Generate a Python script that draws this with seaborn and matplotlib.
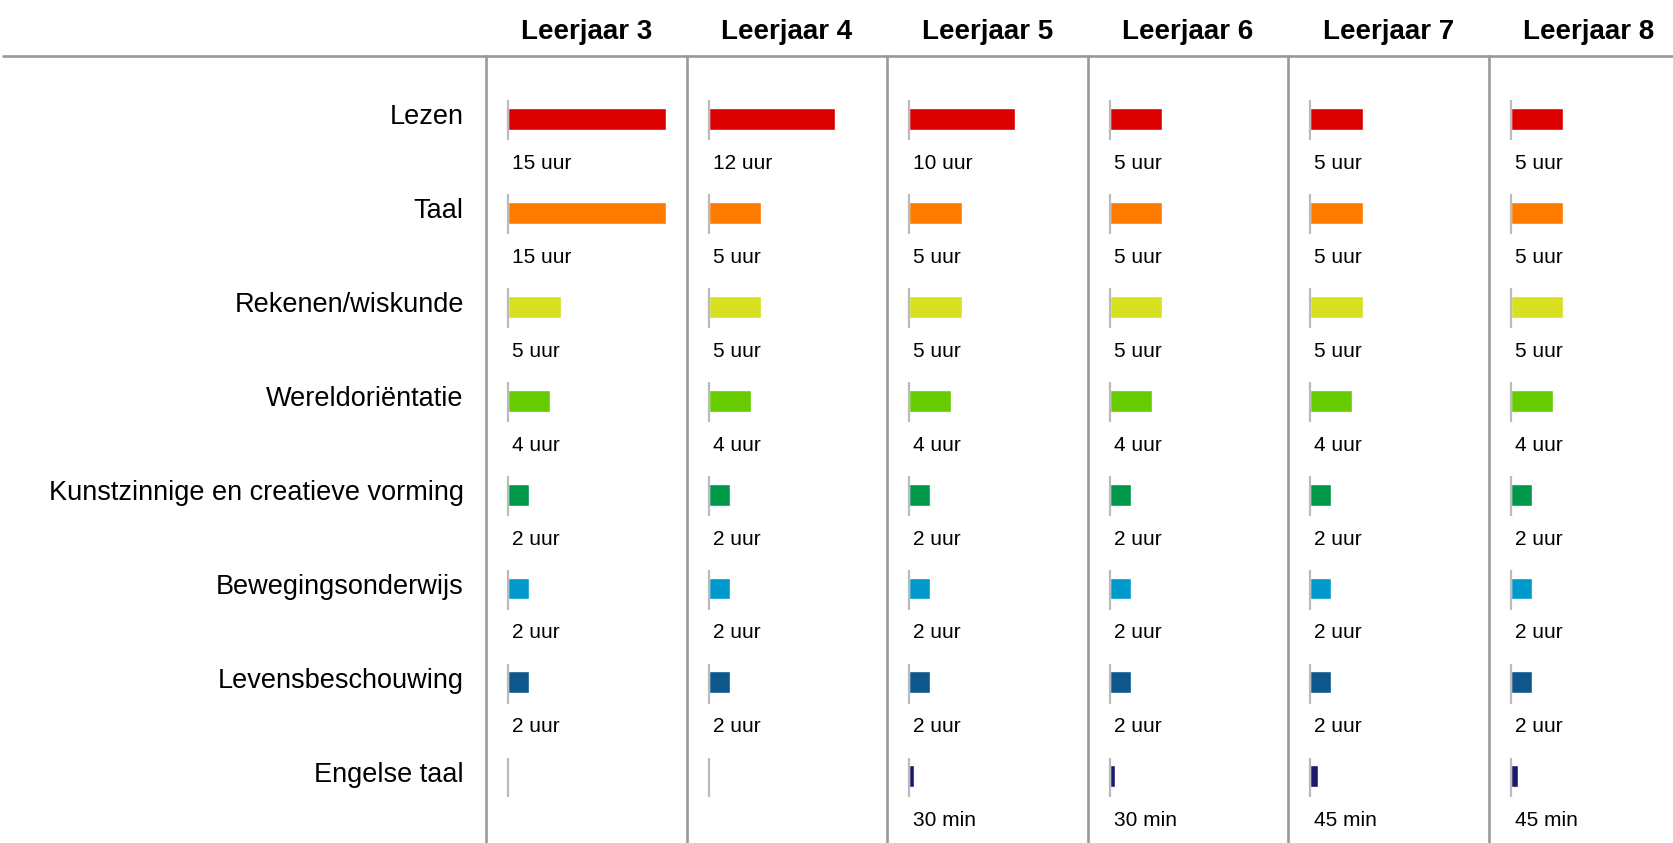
import matplotlib

matplotlib.use("Agg")
import matplotlib.pyplot as plt
from matplotlib.lines import Line2D
from matplotlib.transforms import ScaledTranslation
import pandas as pd
import seaborn as sns

# --------------------------------------------------------------------- #
# Data: uren per week per vak, per leerjaar
# --------------------------------------------------------------------- #
LEERJAREN = ["Leerjaar 3", "Leerjaar 4", "Leerjaar 5",
             "Leerjaar 6", "Leerjaar 7", "Leerjaar 8"]
VAKKEN = ["Lezen", "Taal", "Rekenen/wiskunde", "Wereldoriëntatie",
          "Kunstzinnige en creatieve vorming", "Bewegingsonderwijs",
          "Levensbeschouwing", "Engelse taal"]

LEZEN = [15, 12, 10, 5, 5, 5]
TAAL = [15, 5, 5, 5, 5, 5]
REKENEN = [5, 5, 5, 5, 5, 5]
WERELD = [4, 4, 4, 4, 4, 4]
KUNST = [2, 2, 2, 2, 2, 2]
BEWEGING = [2, 2, 2, 2, 2, 2]
LEVENS = [2, 2, 2, 2, 2, 2]
ENGELS = [0, 0, 0.5, 0.5, 0.75, 0.75]

KLEUREN = ["#DC0000", "#FF7B00", "#D8E022", "#66CC00",
           "#00994C", "#0099CC", "#0D578C", "#1A1A6E"]

# --------------------------------------------------------------------- #
# Layout (pixels of the 1673x843 canvas)
# --------------------------------------------------------------------- #
W, H = 1673, 843
COL_LEFT = 486          # first column separator
COL_W = 200.5
TOP = 56                # horizontal header rule
PX_PER_HOUR = 10.55
BAR_OFFSET = 22         # bar start after separator
ROW_H = 93.9
FIRST_ROW = 119         # centre of first row from top
GRID = "#999999"

sns.set_style("white")
plt.rcParams["font.family"] = ["Liberation Sans", "DejaVu Sans"]


def label_for(v):
    if v == 0:
        return ""
    if v < 1:
        return f"{int(round(v * 60))} min"
    return f"{int(v)} uur"


def main() -> None:
    series = [LEZEN, TAAL, REKENEN, WERELD, KUNST, BEWEGING, LEVENS, ENGELS]
    rows = []
    for vak, vals in zip(VAKKEN, series):
        for lj, v in zip(LEERJAREN, vals):
            rows.append({"leerjaar": lj, "vak": vak, "uren": v})
    df = pd.DataFrame(rows)

    fig = plt.figure(figsize=(W / 100, H / 100), dpi=100)

    x0 = -BAR_OFFSET / PX_PER_HOUR
    x1 = (COL_W - BAR_OFFSET) / PX_PER_HOUR
    y_top = -(FIRST_ROW - TOP) / ROW_H
    y_bot = (len(VAKKEN) - 1) + (H - (FIRST_ROW + (len(VAKKEN) - 1) * ROW_H)) / ROW_H

    for i, lj in enumerate(LEERJAREN):
        left = (COL_LEFT + i * COL_W) / W
        ax = fig.add_axes([left, 0, COL_W / W, (H - TOP) / H])
        sub = df[df["leerjaar"] == lj]
        sns.barplot(data=sub, y="vak", x="uren", hue="vak", order=VAKKEN,
                    hue_order=VAKKEN, palette=KLEUREN, orient="h",
                    width=0.234, saturation=1, legend=False, ax=ax)
        ax.set_xlim(x0, x1)
        ax.set_ylim(y_bot, y_top)

        # baseline ticks at zero
        pos = range(len(VAKKEN))
        ax.vlines([0] * len(VAKKEN), [p - 0.20 for p in pos],
                  [p + 0.225 for p in pos], color="#BBBBBB", lw=1.6, zorder=5)

        for p, v in zip(pos, sub["uren"]):
            txt = label_for(v)
            if txt:
                ax.text(0.42, p + 0.532, txt, fontsize=15, va="baseline",
                        ha="left", color="black")

        ax.set_title(lj, fontsize=20, fontweight="bold", pad=12.5,
                     color="black")
        ax.set_xlabel(""); ax.set_ylabel("")
        ax.set_xticks([])
        for s in ["top", "right", "bottom"]:
            ax.spines[s].set_visible(False)
        ax.spines["left"].set_color(GRID)
        ax.spines["left"].set_linewidth(1.9)
        if i == 0:
            ax.tick_params(axis="y", length=0, pad=16, labelsize=19.5,
                           labelcolor="black")
            shift = ScaledTranslation(0, 0.045, fig.dpi_scale_trans)
            for lab in ax.get_yticklabels():
                lab.set_transform(lab.get_transform() + shift)
        else:
            ax.set_yticks([])

    fig.add_artist(Line2D([3 / W, 1], [1 - TOP / H, 1 - TOP / H],
                          color=GRID, lw=1.9, transform=fig.transFigure))

    fig.savefig("out.png", dpi=100)
    plt.close(fig)


if __name__ == "__main__":
    main()
